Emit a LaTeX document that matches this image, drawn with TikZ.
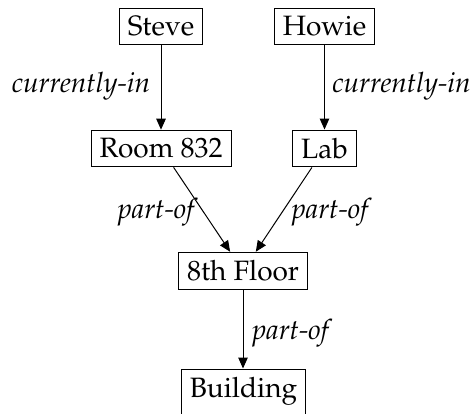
\documentclass[tikz,border=0pt]{standalone}
\usepackage[T1]{fontenc}
\usepackage{mathpazo}
\usetikzlibrary{arrows.meta}
\tikzset{
  box/.style={draw=black, line width=1pt, inner xsep=8.5pt, inner ysep=8.3pt, font=\fontsize{28}{34}\selectfont},
  lbl/.style={inner sep=0pt, anchor=base, font=\fontsize{28}{34}\selectfont\itshape},
  conn/.style={line width=1pt, -{Triangle[length=11pt,width=9.5pt]}}
}
\begin{document}
\begin{tikzpicture}[x=1pt,y=-1pt]
\useasboundingbox (0,0) rectangle (473,413);
\node[box] (steve) at (161,26.5) {Steve};
\node[box] (howie) at (324.5,26.5) {Howie};
\node[box] (room) at (161,148.5) {Room 832};
\node[box] (lab) at (324.5,148.5) {Lab};
\node[box] (floor) at (243,271) {8th Floor};
\node[box, anchor=north, text height=20pt, text depth=14pt] (bldg) at (243.5,368.5) {Building};
\draw[conn] (steve) -- (room);
\draw[conn] (howie) -- (lab);
\draw[conn] (room) -- (floor);
\draw[conn] (lab) -- (floor);
\draw[conn] (floor) -- (floor |- bldg.north);
\node[lbl] (l1) at (81,92) {currently-in};
\node[lbl] (l2) at (401.5,92) {currently-in};
\node[lbl] (l3) at (156,218) {part-of};
\node[lbl] (l4) at (330,218) {part-of};
\node[lbl] (l5) at (290.5,339) {part-of};
\end{tikzpicture}
\end{document}
